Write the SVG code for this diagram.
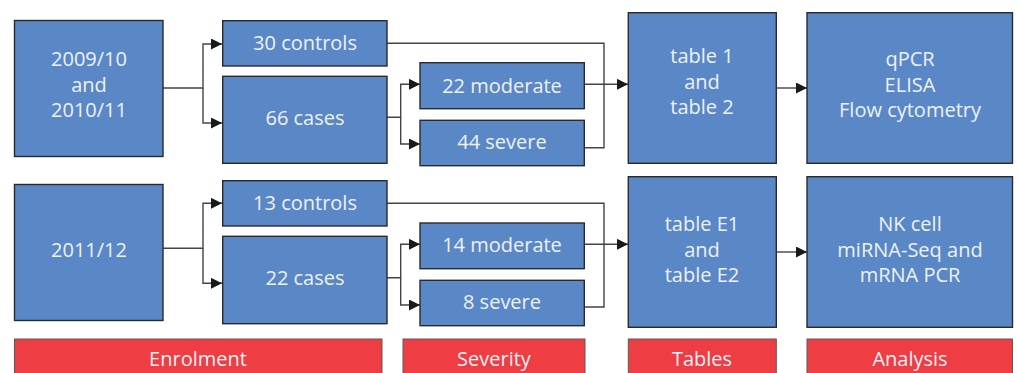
<svg xmlns="http://www.w3.org/2000/svg" width="1017" height="373" viewBox="0 0 1017 373">
<defs>
<style>
.box{fill:#5a88c6;stroke:#2a2a2a;stroke-width:1.4}
.bar{fill:#ef3d44;stroke:#5a5a5a;stroke-width:1}
.t{font-family:"Open Sans","Liberation Sans",sans-serif;font-size:20px;font-weight:400;fill:#eef1f6;text-anchor:middle}
.c{fill:none;stroke:#444;stroke-width:1.4}
</style>
<marker id="ah" markerWidth="12" markerHeight="12" refX="11" refY="5.5" orient="auto" markerUnits="userSpaceOnUse">
<path d="M0,0 L11,5.5 L0,11 Z" fill="#1a1a1a"/>
</marker>
</defs>
<rect width="1017" height="373" fill="#ffffff"/>

<g id="connectors">
<path class="c" d="M163,88 H203 V44 H222" marker-end="url(#ah)"/>
<path class="c" d="M203,88 V123 H222" marker-end="url(#ah)"/>
<path class="c" d="M387,117.3 H400.7 V84.3 H420" marker-end="url(#ah)"/>
<path class="c" d="M400.7,117.3 V144 H420" marker-end="url(#ah)"/>
<path class="c" d="M387,43.3 H604 V147.7 H584"/>
<path class="c" d="M584,84.3 H628" marker-end="url(#ah)"/>
<path class="c" d="M776,88 H807" marker-end="url(#ah)"/>

<path class="c" d="M163,248.3 H203 V203.3 H222" marker-end="url(#ah)"/>
<path class="c" d="M203,248.3 V283.3 H222" marker-end="url(#ah)"/>
<path class="c" d="M387,277.7 H400.7 V244.3 H420" marker-end="url(#ah)"/>
<path class="c" d="M400.7,277.7 V305 H420" marker-end="url(#ah)"/>
<path class="c" d="M387,203.3 H604 V307 H584"/>
<path class="c" d="M584,244.3 H628" marker-end="url(#ah)"/>
<path class="c" d="M776,252 H807" marker-end="url(#ah)"/>
</g>

<g id="season1">
<rect class="box" x="14.5" y="20.5" width="148.5" height="136"/>
<text class="t" x="89" y="65.7">2009/10</text>
<text class="t" x="89" y="91.5">and</text>
<text class="t" x="89" y="117.3">2010/11</text>
</g>
<g id="controls1">
<rect class="box" x="222.7" y="20.7" width="164.3" height="45.3"/>
<text class="t" x="305" y="49.5">30 controls</text>
</g>
<g id="cases1">
<rect class="box" x="222.7" y="76.3" width="164.3" height="87"/>
<text class="t" x="305" y="125">66 cases</text>
</g>
<g id="moderate1">
<rect class="box" x="420" y="62.7" width="164.3" height="46"/>
<text class="t" x="502" y="92.5">22 moderate</text>
</g>
<g id="severe1">
<rect class="box" x="420" y="120.3" width="164.3" height="45.4"/>
<text class="t" x="502" y="149">44 severe</text>
</g>
<g id="tables1">
<rect class="box" x="628.3" y="12.7" width="148" height="150.6"/>
<text class="t" x="702" y="62.7">table 1</text>
<text class="t" x="702" y="88.5">and</text>
<text class="t" x="702" y="114.3">table 2</text>
</g>
<g id="analysis1">
<rect class="box" x="807" y="12.7" width="205.5" height="150.6"/>
<text class="t" x="910" y="65.7">qPCR</text>
<text class="t" x="910" y="91.5">ELISA</text>
<text class="t" x="910" y="117.3">Flow cytometry</text>
</g>

<g id="season2">
<rect class="box" x="14.5" y="184.5" width="148.5" height="136"/>
<text class="t" x="89" y="257.3">2011/12</text>
</g>
<g id="controls2">
<rect class="box" x="222.7" y="180.7" width="164.3" height="45.3"/>
<text class="t" x="305" y="209.5">13 controls</text>
</g>
<g id="cases2">
<rect class="box" x="222.7" y="236.3" width="164.3" height="87.4"/>
<text class="t" x="305" y="285">22 cases</text>
</g>
<g id="moderate2">
<rect class="box" x="420" y="223" width="164.3" height="45.7"/>
<text class="t" x="502" y="251.5">14 moderate</text>
</g>
<g id="severe2">
<rect class="box" x="420" y="280.3" width="164.3" height="45.4"/>
<text class="t" x="502" y="309">8 severe</text>
</g>
<g id="tables2">
<rect class="box" x="628.3" y="176.7" width="148" height="150.6"/>
<text class="t" x="702" y="230.7">table E1</text>
<text class="t" x="702" y="256.5">and</text>
<text class="t" x="702" y="282.3">table E2</text>
</g>
<g id="analysis2">
<rect class="box" x="807" y="176.7" width="205.5" height="150.6"/>
<text class="t" x="910" y="230.7">NK cell</text>
<text class="t" x="910" y="256.5">miRNA-Seq and</text>
<text class="t" x="910" y="282.3">mRNA PCR</text>
</g>

<g id="labels">
<rect class="bar" x="14.5" y="339" width="367.5" height="45"/>
<text class="t" x="198" y="366">Enrolment</text>
<rect class="bar" x="403" y="339" width="182" height="45"/>
<text class="t" x="494" y="366">Severity</text>
<rect class="bar" x="628.3" y="339" width="148" height="45"/>
<text class="t" x="702" y="366">Tables</text>
<rect class="bar" x="807" y="339" width="205.5" height="45"/>
<text class="t" x="910" y="366">Analysis</text>
</g>
</svg>
